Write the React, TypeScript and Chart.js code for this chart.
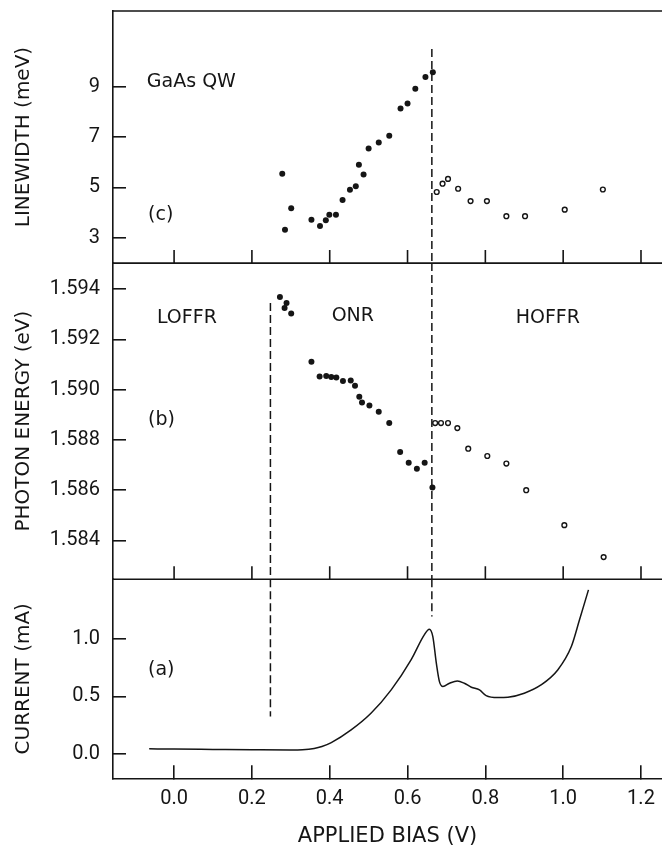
import React, { useEffect, useRef } from "react";
import { Chart, registerables } from "chart.js";

Chart.register(...registerables);

// ---------- data ----------
const xTicks = [0.0, 0.2, 0.4, 0.6, 0.8, 1.0, 1.2];
const linewidthTicks = [3, 5, 7, 9];
const energyTicks = [1.584, 1.586, 1.588, 1.59, 1.592, 1.594];
const currentTicks = [0.0, 0.5, 1.0];

// (c) linewidth: on-resonance (filled) and high off-resonance (open)
const lwOnX = [0.278, 0.285, 0.301, 0.353, 0.375, 0.39, 0.399, 0.416, 0.433, 0.452, 0.467, 0.475, 0.487, 0.5, 0.526, 0.553, 0.582, 0.6, 0.62, 0.646, 0.665];
const lwOnY = [5.54, 3.32, 4.18, 3.72, 3.47, 3.7, 3.92, 3.92, 4.5, 4.91, 5.05, 5.9, 5.51, 6.55, 6.78, 7.05, 8.13, 8.33, 8.92, 9.38, 9.57];
const lwOffX = [0.675, 0.69, 0.704, 0.73, 0.762, 0.804, 0.854, 0.902, 1.004, 1.102];
const lwOffY = [4.82, 5.15, 5.34, 4.95, 4.46, 4.46, 3.86, 3.86, 4.12, 4.92];

// (b) photon energy
const enOnX = [0.272, 0.284, 0.289, 0.301, 0.353, 0.374, 0.391, 0.404, 0.417, 0.434, 0.454, 0.465, 0.476, 0.483, 0.502, 0.526, 0.553, 0.581, 0.603, 0.624, 0.644, 0.664];
const enOnY = [1.59368, 1.59324, 1.59344, 1.59303, 1.59111, 1.59052, 1.59054, 1.5905, 1.59048, 1.59034, 1.59036, 1.59015, 1.58972, 1.58949, 1.58937, 1.58912, 1.58867, 1.58752, 1.58709, 1.58685, 1.58709, 1.58611];
const enOffX = [0.671, 0.686, 0.704, 0.728, 0.756, 0.805, 0.854, 0.905, 1.003, 1.104];
const enOffY = [1.58867, 1.58867, 1.58867, 1.58847, 1.58765, 1.58736, 1.58706, 1.586, 1.58461, 1.58334];

// (a) current
const curX = [-0.064, 0.0, 0.1, 0.2, 0.3, 0.33, 0.36, 0.38, 0.404, 0.455, 0.506, 0.558, 0.609, 0.643, 0.656, 0.665, 0.674, 0.682, 0.691, 0.708, 0.728, 0.746, 0.764, 0.785, 0.802, 0.832, 0.858, 0.9, 0.943, 0.986, 1.021, 1.042, 1.065];
const curY = [0.042, 0.04, 0.037, 0.034, 0.032, 0.034, 0.045, 0.062, 0.096, 0.207, 0.352, 0.556, 0.818, 1.036, 1.085, 1.021, 0.789, 0.628, 0.585, 0.614, 0.634, 0.614, 0.579, 0.556, 0.506, 0.489, 0.492, 0.527, 0.599, 0.73, 0.934, 1.167, 1.428];

// region boundaries (bias values) and their drawn extents
const offOnBias = 0.2476;
const peakBias = 0.6625;
const peakTopLinewidth = 10.49;
const peakBottomCurrent = 1.195;
const offOnTopEnergy = 1.59344;
const offOnBottomCurrent = 0.323;

// axis ranges
const xRange = [-0.157, 1.254];
const lwRange = [2, 12];
const enRange = [1.58246, 1.59503];
const curRange = [-0.215, 1.521];

// text labels inside panels
const labels = [
  { text: "GaAs QW", axis: "yC", x: -0.07, y: 9.2 },
  { text: "(c)", axis: "yC", x: -0.067, y: 3.9 },
  { text: "LOFFR", axis: "yB", x: -0.044, y: 1.59285 },
  { text: "ONR", axis: "yB", x: 0.405, y: 1.59291 },
  { text: "HOFFR", axis: "yB", x: 0.878, y: 1.59285 },
  { text: "(b)", axis: "yB", x: -0.067, y: 1.5888 },
  { text: "(a)", axis: "yA", x: -0.067, y: 0.73 },
];

const INK = "#151515";
const zip = (xs: number[], ys: number[]) => xs.map((x, i) => ({ x, y: ys[i] }));

const framePlugin = {
  id: "frame",
  afterDraw(chart: any) {
    const { ctx, chartArea, scales } = chart;
    const xs = scales.x;
    ctx.save();
    ctx.strokeStyle = INK;
    ctx.lineWidth = 1.6;
    ctx.beginPath();
    ctx.moveTo(chartArea.left, chartArea.top);
    ctx.lineTo(chartArea.right, chartArea.top);
    for (const id of ["yC", "yB"]) {
      const yb = scales[id].bottom;
      ctx.moveTo(chartArea.left, yb);
      ctx.lineTo(chartArea.right, yb);
      for (const v of xTicks) {
        const px = xs.getPixelForValue(v);
        ctx.moveTo(px, yb);
        ctx.lineTo(px, yb - 13);
      }
    }
    ctx.stroke();
    ctx.fillStyle = INK;
    ctx.font = '19px "DejaVu Sans"';
    ctx.textAlign = "left";
    ctx.textBaseline = "middle";
    for (const l of labels) {
      ctx.fillText(l.text, xs.getPixelForValue(l.x), scales[l.axis].getPixelForValue(l.y));
    }
    ctx.restore();
  },
};

function yAxis(range: number[], weight: number, ticks: number[], title: string, digits: number) {
  return {
    type: "linear",
    position: "left",
    stack: "panels",
    stackWeight: weight,
    min: range[0],
    max: range[1],
    afterFit: (s: any) => {
      s.width = 113;
      s.paddingTop = 0;
      s.paddingBottom = 0;
    },
    afterBuildTicks: (s: any) => {
      s.ticks = ticks.map((v) => ({ value: v }));
    },
    border: { display: true, color: INK, width: 1.6 },
    grid: { drawOnChartArea: false, tickLength: -13, color: INK, lineWidth: 1.6 },
    ticks: {
      padding: 26,
      color: INK,
      font: { family: "Roboto", size: 20 },
      callback: (v: any) => Number(v).toFixed(digits),
    },
    title: {
      display: true,
      text: title,
      color: INK,
      font: { family: "DejaVu Sans", size: 20 },
      padding: { top: 12, bottom: 0 },
    },
  };
}

export default function App() {
  const ref = useRef<HTMLCanvasElement>(null);
  useEffect(() => {
    if (!ref.current) return;
    const filled = { pointRadius: 3, pointBackgroundColor: INK, pointBorderColor: INK, pointBorderWidth: 0, showLine: false };
    const open = { pointRadius: 2.4, pointBackgroundColor: "#fff", pointBorderColor: INK, pointBorderWidth: 1.4, showLine: false };
    const dash = { borderColor: INK, borderWidth: 1.5, borderDash: [8, 4], pointRadius: 0, showLine: true, fill: false };
    const chart = new Chart(ref.current, {
      type: "scatter",
      data: {
        datasets: [
          { ...filled, yAxisID: "yC", data: zip(lwOnX, lwOnY) },
          { ...open, yAxisID: "yC", data: zip(lwOffX, lwOffY) },
          { ...filled, yAxisID: "yB", data: zip(enOnX, enOnY) },
          { ...open, yAxisID: "yB", data: zip(enOffX, enOffY) },
          {
            yAxisID: "yA",
            data: zip(curX, curY),
            showLine: true,
            borderColor: INK,
            borderWidth: 1.5,
            pointRadius: 0,
            cubicInterpolationMode: "monotone",
          },
          { ...dash, yAxisID: "yC", data: [{ x: peakBias, y: peakTopLinewidth }, { x: peakBias, y: lwRange[0] }] },
          { ...dash, yAxisID: "yB", data: [{ x: peakBias, y: enRange[1] }, { x: peakBias, y: enRange[0] }] },
          { ...dash, yAxisID: "yA", data: [{ x: peakBias, y: curRange[1] }, { x: peakBias, y: peakBottomCurrent }] },
          { ...dash, yAxisID: "yB", data: [{ x: offOnBias, y: offOnTopEnergy }, { x: offOnBias, y: enRange[0] }] },
          { ...dash, yAxisID: "yA", data: [{ x: offOnBias, y: curRange[1] }, { x: offOnBias, y: offOnBottomCurrent }] },
        ] as any,
      },
      options: {
        animation: false,
        responsive: true,
        maintainAspectRatio: false,
        layout: { autoPadding: false, padding: { top: 11, right: 0, left: 0, bottom: 0 } },
        plugins: { legend: { display: false }, tooltip: { enabled: false } },
        scales: {
          x: {
            type: "linear",
            position: "bottom",
            min: xRange[0],
            max: xRange[1],
            afterFit: (s: any) => {
              s.height = 72.7;
              s.paddingLeft = 0;
              s.paddingRight = 0;
            },
            afterBuildTicks: (s: any) => {
              s.ticks = xTicks.map((v) => ({ value: v }));
            },
            border: { display: true, color: INK, width: 1.6 },
            grid: { drawOnChartArea: false, tickLength: -13, color: INK, lineWidth: 1.6 },
            ticks: {
              padding: 22,
              color: INK,
              maxRotation: 0,
              font: { family: "Roboto", size: 20 },
              callback: (v: any) => Number(v).toFixed(1),
            },
            title: {
              display: true,
              text: "APPLIED BIAS (V)",
              color: INK,
              font: { family: "DejaVu Sans", size: 21 },
              padding: { top: 0, bottom: 2 },
            },
          },
          yA: yAxis(curRange, 199, currentTicks, "CURRENT (mA)", 1),
          yB: yAxis(enRange, 316, energyTicks, "PHOTON ENERGY (eV)", 3),
          yC: yAxis(lwRange, 252, linewidthTicks, "LINEWIDTH (meV)", 0),
        } as any,
      },
      plugins: [framePlugin],
    });
    return () => chart.destroy();
  }, []);
  return (
    <div style={{ position: "absolute", left: 0, top: 0, width: 662, height: 851, background: "#fff" }}>
      <canvas ref={ref} />
    </div>
  );
}
